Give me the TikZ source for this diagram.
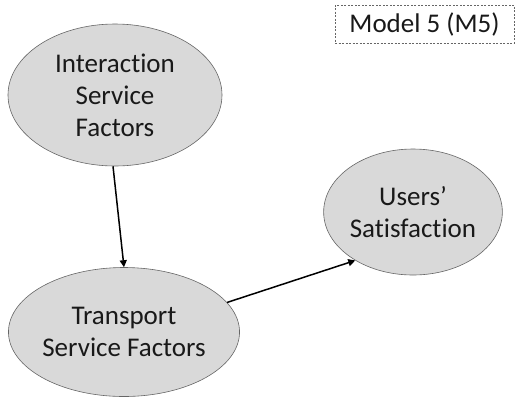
\documentclass[tikz,border=0pt]{standalone}
\usepackage{fontspec}
\setmainfont{Carlito}[Ligatures={NoCommon}]
\usetikzlibrary{shapes.geometric,arrows.meta}
\begin{document}
\begin{tikzpicture}[x=1pt,y=-1pt,
  factor/.style={ellipse, draw=black!60, line width=0.6pt, fill=black!15,
    inner sep=0pt, align=center, font=\fontsize{27}{32}\selectfont, text=black!90},
  link/.style={-{Triangle[length=7pt,width=7pt]}, line width=1.5pt, black},
  tag/.style={draw=black!60, dashed, dash pattern=on 2pt off 1.5pt, line width=0.6pt,
    minimum width=179pt, minimum height=38pt, inner sep=0pt,
    font=\fontsize{27}{32}\selectfont, text=black!90}]
  \useasboundingbox (0,0) rectangle (518,400);
  \node[factor, minimum width=214pt, minimum height=142pt] (isf) at (115,95)
    {Interaction\\Service\\Factors};
  \node[factor, minimum width=212pt, minimum height=129pt] (tsf) at (124,332)
    {Transport\\Service Factors};
  \node[factor, minimum width=176pt, minimum height=126pt] (us) at (413,212)
    {Users’\\Satisfaction};
  \node[tag] (m5) at (424.5,24) {Model 5 (M5)};
  \draw[link] (isf.south) ++(-2,0) -- (tsf.north);
  \draw[link] (tsf.16) -- (us.220);
\end{tikzpicture}
\end{document}
